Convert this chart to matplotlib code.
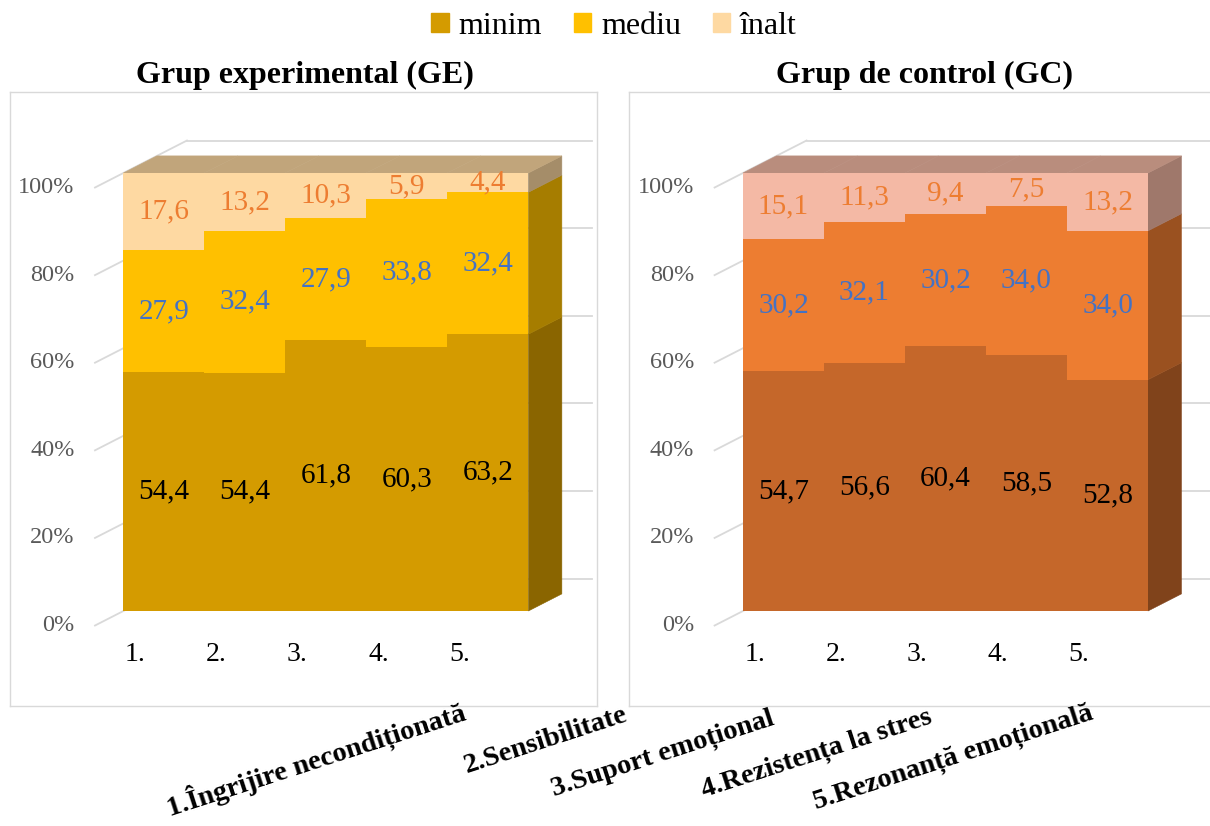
import numpy as np
import matplotlib; matplotlib.use("Agg")
import matplotlib.pyplot as plt
import matplotlib.colors as mcolors
from matplotlib.patches import Polygon, Patch

plt.rcParams['font.family'] = ['Liberation Serif', 'DejaVu Serif']

categories = ["1.", "2.", "3.", "4.", "5."]
long_names = ["1.Îngrijire necondiționată", "2.Sensibilitate", "3.Suport emoțional",
              "4.Rezistența la stres", "5.Rezonanță emoțională"]
series = ["minim", "mediu", "înalt"]

ge_minim = [54.4, 54.4, 61.8, 60.3, 63.2]
ge_mediu = [27.9, 32.4, 27.9, 33.8, 32.4]
ge_inalt = [17.6, 13.2, 10.3, 5.9, 4.4]

gc_minim = [54.7, 56.6, 60.4, 58.5, 52.8]
gc_mediu = [30.2, 32.1, 30.2, 34.0, 34.0]
gc_inalt = [15.1, 11.3, 9.4, 7.5, 13.2]

ge_colors = ["#D49B00", "#FFC000", "#FED9A2"]
gc_colors = ["#C5672A", "#ED7D31", "#F4B9A5"]
label_colors = ["black", "#4472C4", "#ED7D31"]
GRID = "#D9D9D9"

W, H = 1210, 826
PX_X, PX_Y = 81.0, 4.38          # pixels per category unit / per percent
DX, DY = 33.45 / PX_X, 17.1 / PX_Y  # oblique offset for one unit of bar depth
S_AXIS, S_BACK = -0.85, 1.9         # depth of the axis plane and of the back wall


def shade(c, f):
    return tuple(v * f for v in mcolors.to_rgb(c))


def fmt(v):
    return f"{v:.1f}".replace(".", ",")


def panel(box, x0_px, vals, colors):
    # box = (left, top, right, bottom) in pixels; x0_px = pixel of the front face left edge
    l, t, r, b = box
    ax = plt.gcf().add_axes([l / W, 1 - b / H, (r - l) / W, (b - t) / H])
    ax.set_xlim((l - x0_px) / PX_X, (r - x0_px) / PX_X)
    ax.set_ylim((611 - b) / PX_Y, (611 - t) / PX_Y)
    ax.set_xticks([]); ax.set_yticks([])
    for s in ax.spines.values():
        s.set_color(GRID); s.set_linewidth(1.0)

    n = len(categories); x = np.arange(n)
    raw = [np.array(v, float) for v in vals]
    tot = sum(raw)
    shares = [v / tot * 100 for v in raw]

    # gridlines: diagonal from the axis plane to the back wall, then along the back wall
    for g in range(0, 101, 20):
        ax.plot([S_AXIS * DX, S_BACK * DX], [g + S_AXIS * DY, g + S_BACK * DY], color=GRID, lw=1.3, zorder=1)
        ax.plot([S_BACK * DX, n + S_BACK * DX], [g + S_BACK * DY] * 2, color=GRID, lw=1.3, zorder=1)
        ax.text(S_AXIS * DX - 0.25, g + S_AXIS * DY, f"{g}%", ha="right", va="center",
                color="#595959", fontsize=17.5)

    bottom = np.zeros(n)
    for k, (v, c) in enumerate(zip(shares, colors)):
        ax.bar(x, v, width=1.0, bottom=bottom, align="edge", color=c, lw=0,
               antialiased=False, zorder=4)
        lo, hi = bottom[-1], bottom[-1] + v[-1]
        ax.add_patch(Polygon([(n, lo), (n + DX, lo + DY), (n + DX, hi + DY), (n, hi)],
                             closed=True, fc=shade(c, 0.65), ec=shade(c, 0.65), lw=0.4, zorder=3))
        for i in range(n):
            ax.text(i + 0.5, bottom[i] + v[i] / 2, fmt(raw[k][i]), ha="center", va="center",
                    color=label_colors[k], fontsize=21, zorder=6)
        bottom = bottom + v

    top_c = shade(colors[-1], 0.76)
    for i in range(n):
        y = bottom[i]
        ax.add_patch(Polygon([(i, y), (i + 1, y), (i + 1 + DX, y + DY), (i + DX, y + DY)],
                             closed=True, fc=top_c, ec=top_c, lw=0.4, zorder=3))

    for i, c in enumerate(categories):
        ax.text(i + 0.5 + S_AXIS * DX, S_AXIS * DY - 6.6, c, ha="center", va="center",
                fontsize=20, color="black")
    return ax


fig = plt.figure(figsize=(W / 100, H / 100), dpi=100)

panel((10, 92, 597, 706), 123.4, [ge_minim, ge_mediu, ge_inalt], ge_colors)
panel((629, 92, 1216, 706), 743.0, [gc_minim, gc_mediu, gc_inalt], gc_colors)

fig.text(305 / W, 1 - 75 / H, "Grup experimental (GE)", ha="center", va="center",
         fontsize=23, fontweight="bold")
fig.text(924 / W, 1 - 75 / H, "Grup de control (GC)", ha="center", va="center",
         fontsize=23, fontweight="bold")

handles = [Patch(fc=c, ec=c, label=s) for c, s in zip(ge_colors, series)]
fig.legend(handles=handles, loc="center", bbox_to_anchor=(614 / W, 1 - 26 / H), ncol=3,
           frameon=False, fontsize=23, handlelength=0.55, handleheight=0.55,
           handletextpad=0.3, columnspacing=1.0)

centres = [(316, 759), (546, 740), (663, 754), (817, 754), (953, 758)]
for name, (cx, cy) in zip(long_names, centres):
    fig.text(cx / W, 1 - cy / H, name, rotation=18, rotation_mode="anchor", ha="center",
             va="center", fontsize=20.5, fontweight="bold")

fig.savefig("out.png", dpi=100)
